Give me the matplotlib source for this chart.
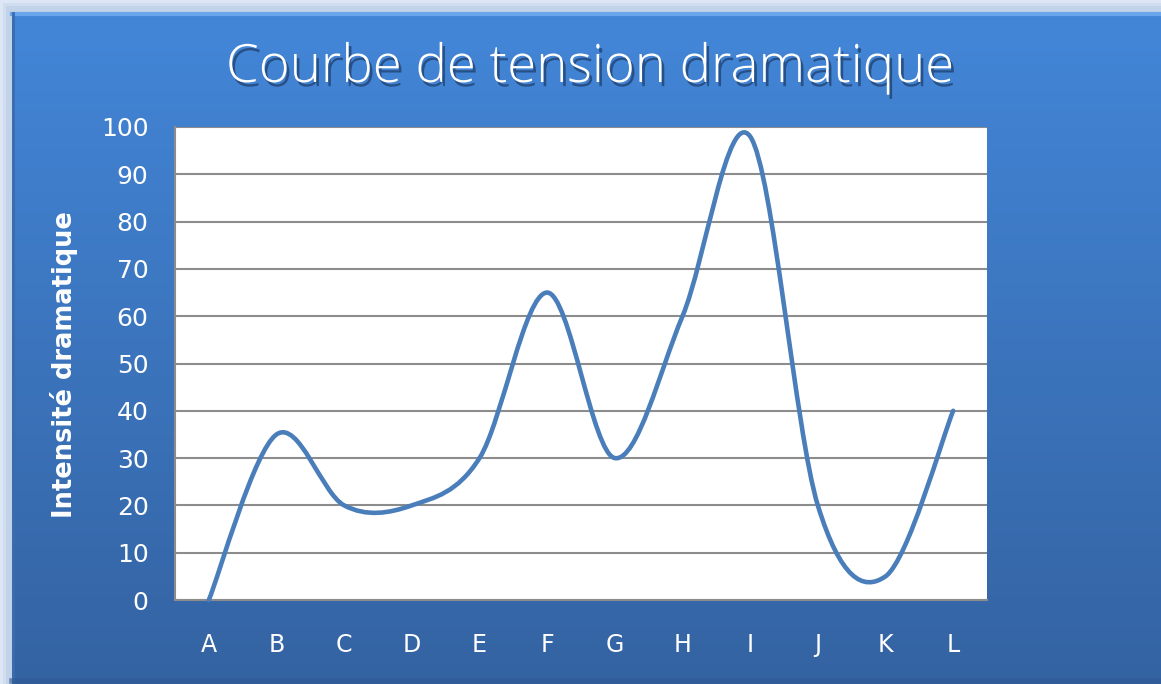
import numpy as np
import matplotlib
matplotlib.use('Agg')
from matplotlib import pyplot as plt
from matplotlib.path import Path
from matplotlib.patches import PathPatch
import matplotlib.patheffects as pe

categories = ['A', 'B', 'C', 'D', 'E', 'F', 'G', 'H', 'I', 'J', 'K', 'L']
intensite = [0, 35, 20, 20, 30, 65, 30, 60, 98, 20, 5, 40]
yticks = [0, 10, 20, 30, 40, 50, 60, 70, 80, 90, 100]

W, H = 1161, 684
fig = plt.figure(figsize=(W / 100, H / 100), dpi=100)
fig.patch.set_facecolor('#e4ecf7')

# background panel (gradient, like the Excel chart area)
bg = fig.add_axes([0, 0, 1, 1])
bg.set_xlim(0, W)
bg.set_ylim(H, 0)
bg.axis('off')
grad = np.linspace(0, 1, 256).reshape(-1, 1)
top = np.array([0x43, 0x86, 0xd8]) / 255
bot = np.array([0x34, 0x63, 0xa2]) / 255
img = top + (bot - top) * grad[..., None]
img = np.repeat(img, 2, axis=1)
# soft outer glow
for k, a in enumerate([0.10, 0.18, 0.28]):
    bg.add_patch(plt.Rectangle((k * 3, k * 3), W, H, color='#9db7dc', alpha=a, lw=0))
bg.imshow(img, extent=(12, W, H, 13), aspect='auto', zorder=2)
bg.plot([12, W], [14, 14], color='#6aa4ea', lw=3, zorder=3)
bg.plot([13, 13], [13, H], color='#3a6cae', lw=2, zorder=3)
bg.plot([12, W], [H - 3, H - 3], color='#2e5a93', lw=4, alpha=0.6, zorder=3)

ax = fig.add_axes([175 / W, 1 - 600 / H, (987 - 175) / W, (600 - 127) / H])
ax.set_facecolor('white')
ax.set_xlim(-0.5, len(categories) - 0.5)
ax.set_ylim(0, 100)

# smoothed line, Excel style (Catmull-Rom -> cubic Bezier)
x = np.arange(len(categories), dtype=float)
y = np.array(intensite, dtype=float)
xp = np.concatenate([[x[0]], x, [x[-1]]])
yp = np.concatenate([[y[0]], y, [y[-1]]])
verts = [(x[0], y[0])]
codes = [Path.MOVETO]
for i in range(len(x) - 1):
    c1 = (xp[i + 1] + (xp[i + 2] - xp[i]) / 6, yp[i + 1] + (yp[i + 2] - yp[i]) / 6)
    c2 = (xp[i + 2] - (xp[i + 3] - xp[i + 1]) / 6, yp[i + 2] - (yp[i + 3] - yp[i + 1]) / 6)
    verts += [c1, c2, (x[i + 1], y[i + 1])]
    codes += [Path.CURVE4] * 3
ax.add_patch(PathPatch(Path(verts, codes), fill=False, edgecolor='#4a7ebb',
                       lw=3.3, capstyle='round', joinstyle='round', zorder=3, clip_on=False))

ax.set_yticks(yticks)
ax.set_xticks(x)
ax.set_xticklabels(categories)
ax.yaxis.grid(True, color='#8c8c8c', lw=1.5)
ax.set_axisbelow(True)
ax.tick_params(length=0, colors='white', labelsize=18)
ax.tick_params(axis='x', pad=24, labelsize=17)
ax.tick_params(axis='y', pad=19)
for s in ['top', 'right']:
    ax.spines[s].set_visible(False)
ax.spines['left'].set_color('#8c8c8c')
ax.spines['bottom'].set_color('#8c8c8c')
ax.spines['left'].set_linewidth(1.5)
ax.spines['bottom'].set_linewidth(1.5)

fig.text(64 / W, 1 - 365 / H, 'Intensité dramatique', rotation=90, color='white',
         fontsize=18.5, fontweight='bold', ha='center', va='center')

fig.text(590 / W, 1 - 68 / H, 'Courbe de tension dramatique', color='white',
         fontsize=38, fontweight='light', family=['Open Sans', 'DejaVu Sans'],
         ha='center', va='center',
         path_effects=[pe.withSimplePatchShadow(offset=(2, -3), shadow_rgbFace='#1d3b66', alpha=0.7)])

fig.savefig('out.png', dpi=100, facecolor=fig.get_facecolor())
